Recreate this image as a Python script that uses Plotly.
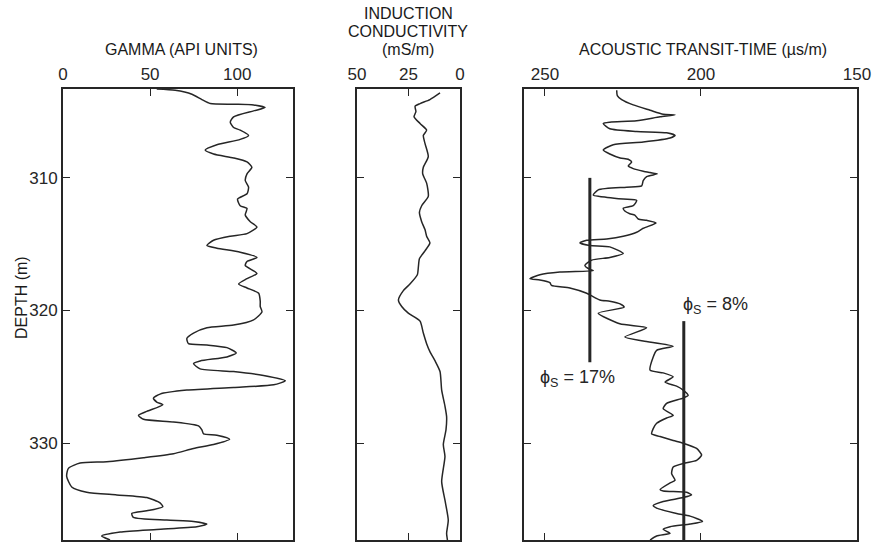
import plotly.graph_objects as go

# ---------------- data ----------------
gamma_depth = [303.3, 303.4, 303.7, 304.1, 304.4, 304.45, 304.5, 304.7, 304.95, 305.4, 305.8, 306.2, 306.4,
               306.8, 307.1, 307.5, 307.9, 308.2, 308.5, 308.8, 309.2, 309.7, 310.2, 310.7, 311.2, 311.6,
               312.1, 312.3, 312.8, 313.3, 313.7, 314.2, 314.4, 314.7, 315.1, 315.3, 315.6, 316.0, 316.3,
               316.6, 317.2, 317.6, 318.0, 318.3, 318.7, 319.3, 319.7, 320.1, 320.7, 321.1, 321.3, 321.7,
               322.1, 322.5, 322.6, 322.8, 323.2, 323.5, 323.8, 324.0, 324.4, 324.6, 324.9, 325.3, 325.6,
               325.8, 326.0, 326.3, 326.6, 326.9, 327.1, 327.6, 327.9, 328.2, 328.4, 328.7, 329.0, 329.3,
               329.4, 329.7, 330.1, 330.4, 330.8, 331.1, 331.4, 331.5, 331.9, 332.5, 333.3, 333.7, 333.9,
               334.1, 334.5, 334.8, 335.1, 335.3, 335.6, 335.8, 335.9, 336.1, 336.3, 336.5, 336.7, 337.0, 337.3]
gamma_api = [53.8, 64.4, 74.0, 79.7, 84.5, 97.9, 109.4, 116.0, 109.4, 97.9, 96.0, 97.9, 101.7,
             106.5, 101.7, 88.3, 81.6, 86.4, 97.9, 105.6, 108.4, 105.6, 104.6, 106.5, 105.6, 100.2,
             101.7, 105.6, 104.6, 107.5, 111.3, 105.6, 96.0, 86.4, 82.6, 88.3, 101.7, 111.3, 105.6,
             104.6, 111.3, 105.6, 100.8, 105.6, 112.3, 113.2, 113.2, 114.2, 109.4, 97.9, 82.6, 74.9,
             71.1, 72.0, 82.6, 94.1, 99.4, 94.1, 78.7, 74.9, 78.7, 97.9, 115.1, 127.6, 120.9,
             97.9, 71.1, 55.7, 51.9, 53.8, 57.3, 48.1, 43.3, 46.2, 63.4, 77.8, 79.7, 80.7,
             88.3, 95.6, 86.4, 74.9, 63.4, 46.2, 25.1, 9.8, 3.1, 2.1, 5.0, 13.6, 30.8,
             48.1, 55.7, 57.3, 48.1, 39.5, 40.4, 59.6, 74.9, 82.6, 76.8, 53.8, 32.8, 22.2, 27.0]

cond_depth = [303.6, 304.1, 304.4, 304.6, 305.0, 305.4, 305.9, 306.4, 306.8, 307.4, 308.4, 309.2, 309.7,
              310.4, 311.4, 312.1, 312.6, 313.3, 313.9, 314.4, 314.9, 315.5, 316.1, 316.7, 317.3, 318.0,
              318.5, 319.2, 319.7, 320.2, 320.8, 321.7, 322.5, 323.1, 323.8, 324.6, 326.0, 327.2, 328.0,
              329.0, 330.1, 331.0, 332.9, 334.3, 335.8, 336.8, 337.3]
cond_ms = [9.7, 14.6, 19.4, 21.8, 21.4, 22.3, 19.4, 16.2, 17.8, 17.0, 15.4, 17.8, 18.1,
           16.2, 15.4, 18.6, 19.7, 18.6, 17.0, 16.2, 14.6, 17.0, 19.7, 20.2, 20.7, 24.3,
           27.5, 29.9, 28.3, 25.1, 19.4, 17.8, 16.2, 14.6, 12.1, 9.7, 8.9, 7.3, 6.5,
           6.8, 8.1, 7.3, 8.9, 7.3, 5.7, 6.5, 6.1]

sonic_depth = [303.4, 303.8, 304.1, 304.5, 304.9, 305.2, 305.25, 305.4, 305.7, 305.8, 305.9, 306.3, 306.5,
               306.6, 306.8, 307.0, 307.3, 307.5, 307.9, 308.2, 308.5, 308.6, 308.8, 309.1, 309.3, 309.5,
               309.6, 309.7, 309.9, 310.2, 310.6, 310.7, 310.9, 311.3, 311.4, 311.6, 311.7, 312.1, 312.3,
               312.5, 312.7, 312.8, 313.1, 313.2, 313.4, 313.8, 314.1, 314.4, 314.6, 314.7, 314.9, 315.1,
               315.2, 315.7, 316.0, 316.2, 316.6, 316.9, 317.0, 317.1, 317.3, 317.6, 317.7, 317.9, 318.1,
               318.3, 318.7, 319.2, 319.3, 319.5, 319.75, 320.2, 321.0, 321.3, 322.0, 322.3, 322.7, 323.0,
               323.5, 324.5, 324.7, 325.0, 325.4, 325.7, 326.0, 326.4, 326.6, 327.0, 327.4, 327.9, 328.1,
               328.5, 328.9, 329.3, 329.5, 329.8, 330.0, 330.4, 330.9, 331.3, 331.5, 331.8, 332.3, 332.8,
               333.0, 333.5, 333.6, 333.7, 333.9, 334.1, 334.4, 334.7, 334.9, 335.3, 335.5, 335.9, 336.1,
               336.3, 336.5, 336.8, 337.0, 337.3]
sonic_us = [227.0, 226.8, 225.4, 221.7, 216.3, 212.1, 208.3, 213.1, 220.6, 229.2, 231.3, 229.2, 220.6,
            211.0, 208.3, 209.9, 218.5, 228.1, 231.3, 229.2, 225.9, 223.3, 222.2, 223.3, 221.7, 218.5,
            216.3, 214.0, 217.4, 218.5, 219.0, 223.8, 232.9, 234.5, 232.4, 224.9, 220.6, 221.7, 224.9,
            224.4, 222.8, 221.2, 220.1, 217.4, 214.4, 218.5, 220.6, 224.9, 230.2, 236.6, 238.8, 235.6,
            229.2, 224.9, 229.2, 235.0, 237.2, 235.6, 234.5, 245.2, 251.6, 254.8, 251.6, 248.4, 247.9,
            242.0, 236.6, 232.4, 229.2, 225.9, 224.6, 232.9, 226.0, 217.4, 224.4, 218.5, 208.9, 214.2,
            215.3, 216.3, 212.1, 208.9, 211.5, 207.8, 205.7, 204.1, 205.7, 211.0, 212.1, 208.9, 211.0,
            214.2, 215.3, 215.8, 213.1, 208.9, 205.7, 201.4, 199.8, 201.4, 205.1, 208.9, 209.4, 208.3,
            209.9, 213.1, 212.1, 204.6, 203.0, 205.7, 212.1, 215.3, 214.2, 207.8, 203.5, 199.5, 203.5,
            209.9, 212.1, 209.9, 214.2, 216.3]

# matrix transit-time reference lines (value, top depth, bottom depth) and labels
phi17_x = [235.6, 235.6]
phi17_y = [310.0, 323.9]
phi8_x = [205.5, 205.5]
phi8_y = [320.8, 337.3]
phi_labels = ["ϕ<sub>S</sub> = 17%", "ϕ<sub>S</sub> = 8%"]
phi_label_x = [239.4, 195.2]
phi_label_y = [325.1, 319.6]

depth_ticks = [310, 320, 330]
gamma_ticks = [0, 50, 100]
cond_ticks = [50, 25, 0]
sonic_ticks = [250, 200, 150]

# ---------------- figure ----------------
W, H = 877, 544
INK = "#262626"
NARROW = "Liberation Sans Narrow, Arial Narrow, Liberation Sans, sans-serif"
SANS = "Liberation Sans, Arial, sans-serif"

def px(v):
    return v / W

ydom = [1 - 540 / H, 1 - 89 / H]

fig = go.Figure()
line_style = dict(color=INK, width=1.5, shape="spline", smoothing=0.6)
fig.add_trace(go.Scatter(x=gamma_api, y=gamma_depth, mode="lines", line=line_style, xaxis="x", yaxis="y"))
fig.add_trace(go.Scatter(x=cond_ms, y=cond_depth, mode="lines", line=line_style, xaxis="x2", yaxis="y2"))
fig.add_trace(go.Scatter(x=sonic_us, y=sonic_depth, mode="lines", line=line_style, xaxis="x3", yaxis="y3"))
fig.add_trace(go.Scatter(x=phi17_x, y=phi17_y, mode="lines", line=dict(color=INK, width=3), xaxis="x3", yaxis="y3"))
fig.add_trace(go.Scatter(x=phi8_x, y=phi8_y, mode="lines", line=dict(color=INK, width=3), xaxis="x3", yaxis="y3"))

def xax(dom, rng, ticks, anchor):
    return dict(domain=dom, range=rng, side="top", tickvals=ticks, ticks="inside", ticklen=7,
                tickwidth=1.3, tickcolor=INK, showline=True, linecolor=INK, linewidth=1.8,
                mirror="ticks", showgrid=False, zeroline=False, anchor=anchor, automargin=False,
                tickfont=dict(family=NARROW, size=17, color=INK))

def yax(anchor, labels):
    d = dict(domain=ydom, range=[337.3, 303.3], tickvals=depth_ticks, ticks="inside", ticklen=7,
             tickwidth=1.3, tickcolor=INK, showline=True, linecolor=INK, linewidth=1.8,
             mirror="ticks", showgrid=False, zeroline=False, anchor=anchor, automargin=False,
             showticklabels=labels, tickfont=dict(family=NARROW, size=17, color=INK))
    return d

fig.update_layout(
    width=W, height=H, margin=dict(l=0, r=0, t=0, b=0),
    template="none", paper_bgcolor="white", plot_bgcolor="white", showlegend=False,
    xaxis=xax([px(63), px(293)], [0, 132], gamma_ticks, "y"),
    xaxis2=xax([px(357), px(460)], [50, 0], cond_ticks, "y2"),
    xaxis3=xax([px(524), px(857)], [256.7, 150], sonic_ticks, "y3"),
    yaxis=yax("x", True),
    yaxis2=dict(yax("x2", False), matches="y"),
    yaxis3=dict(yax("x3", False), matches="y"),
)

title_font = dict(family=SANS, size=16, color="#1a1a1a")
titles = [
    ("GAMMA (API UNITS)", 181, 49.5),
    ("INDUCTION", 408, 13.5),
    ("CONDUCTIVITY", 408, 31.5),
    ("(mS/m)", 408, 49.5),
    ("ACOUSTIC TRANSIT-TIME (µs/m)", 703, 49.5),
]
for text, xpx, ypx in titles:
    fig.add_annotation(text=text, x=xpx / W, y=1 - ypx / H, xref="paper", yref="paper",
                       showarrow=False, font=title_font, xanchor="center", yanchor="middle")

fig.add_annotation(text="DEPTH (m)", x=21 / W, y=1 - 298 / H, xref="paper", yref="paper",
                   showarrow=False, textangle=-90, font=title_font, xanchor="center", yanchor="middle")

for t, lx, ly in zip(phi_labels, phi_label_x, phi_label_y):
    fig.add_annotation(text=t, x=lx, y=ly, xref="x3", yref="y3", showarrow=False,
                       font=dict(family=SANS, size=18, color=INK), xanchor="center", yanchor="middle")

fig.write_html("out.html")
